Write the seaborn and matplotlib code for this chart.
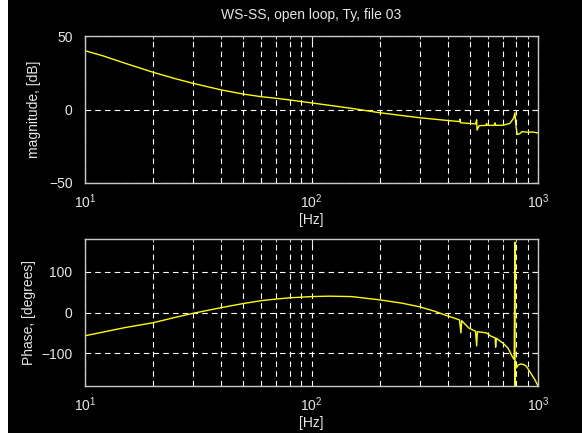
import numpy as np
import pandas as pd
import matplotlib
matplotlib.use("Agg")
import matplotlib.pyplot as plt
from matplotlib.patches import Rectangle
from matplotlib.ticker import LogLocator
import seaborn as sns

# ---- data ----
title = "WS-SS, open loop, Ty, file 03"
mag_freq = [10, 12, 15, 20, 25, 30, 40, 50, 60, 70, 80, 100, 150, 200, 300, 400,
            450, 453, 455, 500, 530, 536, 538, 550, 590, 593, 596, 640, 646, 650,
            700, 750, 780, 791, 800, 810, 830, 850, 900, 950, 1000]
mag_db = [40, 36.5, 31.5, 25.3, 21, 17.8, 13.3, 10.5, 8.7, 7.6, 6.5, 4.5, 0.8, -2.2, -5.6, -7.5,
          -8.2, -6.5, -9, -9.5, -9.8, -7, -14, -11, -10.8, -9.5, -10.8, -10.8, -9, -10.8,
          -10.7, -9.5, -6, -2.3, -12, -17, -16.5, -15, -15.5, -15.3, -16]

ph_freq = [10, 12, 15, 20, 25, 30, 40, 50, 60, 70, 80, 90, 100, 120, 150, 200, 250,
           300, 350, 400, 450, 457, 460, 495, 530, 536, 540, 593, 620, 647, 650, 655,
           700, 737, 770, 785, 791, 791.5, 795, 800, 820, 842, 870, 889, 940, 970, 1000]
ph_deg = [-57, -48, -37, -25, -12, -2, 12, 22, 29, 33, 36, 37.5, 39, 40, 39, 31, 23,
          14, 3, -8.6, -18, -50, -20, -38, -46, -82, -47, -50, -58, -62, -85, -63,
          -75, -87, -108, -115, 172, -180, -120, -136, -128, -126, -128, -132, -153, -165, -180]

fg = "#e6e6e6"
sns.set_style("darkgrid", {
    "axes.facecolor": "black",
    "figure.facecolor": "black",
    "axes.edgecolor": "#c8c8c8",
    "grid.color": "white",
    "grid.linestyle": (0, (4, 3)),
    "text.color": fg,
    "axes.labelcolor": fg,
    "xtick.color": fg,
    "ytick.color": fg,
})
plt.rcParams["font.family"] = ["Liberation Sans", "DejaVu Sans"]
plt.rcParams["mathtext.fontset"] = "custom"
plt.rcParams["mathtext.rm"] = "Liberation Sans"
plt.rcParams["mathtext.it"] = "Liberation Sans"
plt.rcParams["lines.scale_dashes"] = False

fig = plt.figure(figsize=(5.82, 4.33), dpi=100, facecolor="black")
fig.patches.append(Rectangle((0, 0), 8 / 582, 1, transform=fig.transFigure,
                             facecolor="white", edgecolor="none", zorder=-10))

ax1 = fig.add_axes([85 / 582, 1 - 183 / 433, 453 / 582, 147 / 433])
ax2 = fig.add_axes([85 / 582, 1 - 386 / 433, 453 / 582, 147 / 433])

df_mag = pd.DataFrame({"f": mag_freq, "m": mag_db})
df_ph = pd.DataFrame({"f": ph_freq, "p": ph_deg})

for ax in (ax1, ax2):
    ax.set_xscale("log")

sns.lineplot(data=df_mag, x="f", y="m", ax=ax1, color="#ffff00", linewidth=1.0,
             sort=False, estimator=None)
sns.lineplot(data=df_ph, x="f", y="p", ax=ax2, color="#ffff00", linewidth=1.0,
             sort=False, estimator=None)

ax1.set_ylim(-50, 50)
ax1.set_yticks([-50, 0, 50])
ax2.set_ylim(-180, 180)
ax2.set_yticks([-100, 0, 100])

for ax in (ax1, ax2):
    ax.set_xlim(10, 1000)
    ax.xaxis.set_major_locator(LogLocator(base=10, numticks=10))
    ax.xaxis.set_minor_locator(LogLocator(base=10, subs=np.arange(2, 10), numticks=10))
    ax.grid(True, which="both", axis="x", color="white", linestyle=(0, (4, 3)), linewidth=0.8)
    ax.grid(True, which="major", axis="y", color="white", linestyle=(0, (4, 3)), linewidth=0.8)
    ax.tick_params(which="both", direction="in", top=True, right=True, labelsize=10,
                   colors=fg)
    ax.tick_params(which="major", length=4, width=0.8)
    ax.tick_params(which="minor", length=2.5, width=0.6)
    ax.tick_params(axis="y", pad=9)
    ax.tick_params(axis="x", pad=7)
    for s in ax.spines.values():
        s.set_visible(True)
        s.set_color("#c8c8c8")
        s.set_linewidth(1.0)
    ax.set_xlabel("[Hz]", fontsize=10, labelpad=1)
    ax.set_axisbelow(True)

ax1.set_ylabel("magnitude, [dB]", fontsize=10, labelpad=6)
ax2.set_ylabel("Phase, [degrees]", fontsize=10, labelpad=4)
ax1.set_title(title, fontsize=10, color=fg, pad=12)

fig.savefig("out.png", dpi=100, facecolor=fig.get_facecolor())
